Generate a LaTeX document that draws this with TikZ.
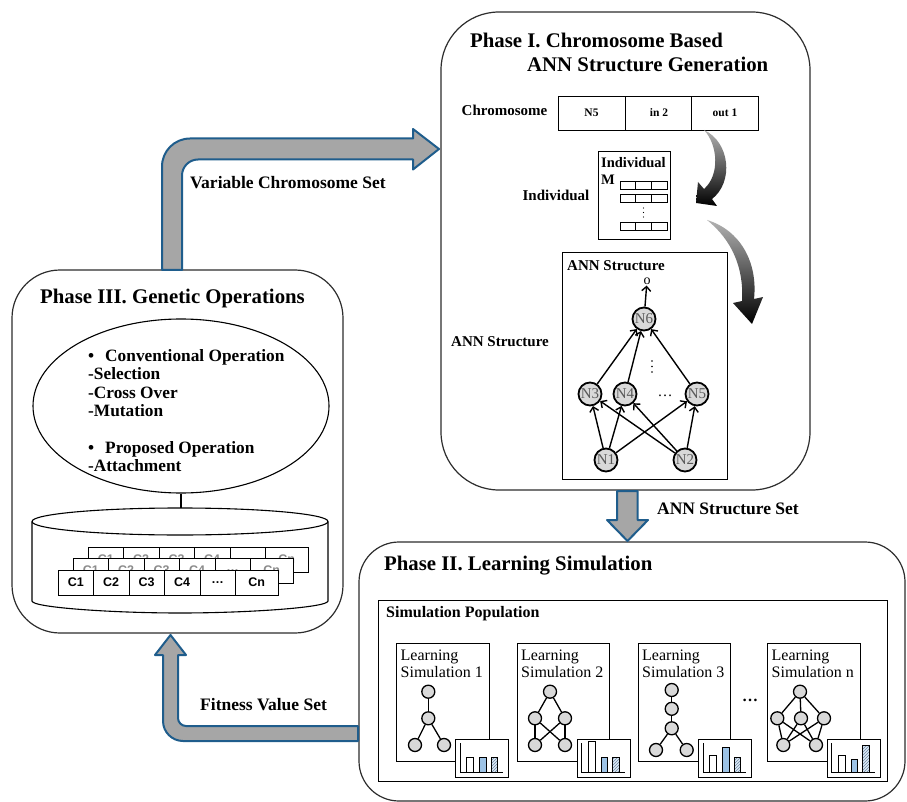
\documentclass[tikz,border=0pt]{standalone}
\usepackage{fontspec}
\setmainfont{Liberation Serif}
\setsansfont{Liberation Sans}
\usetikzlibrary{shapes.geometric,arrows.meta,patterns}

\definecolor{arrowblue}{RGB}{31,93,140}
\definecolor{arrowgray}{RGB}{166,166,166}
\definecolor{nodegray}{RGB}{217,217,217}
\definecolor{barblue}{RGB}{157,195,230}
\definecolor{boxline}{RGB}{45,45,45}

\newcommand{\fsz}[2]{\fontsize{#1}{#2}\selectfont}

% one bar chart: name, top-left x, top-left y, three bar heights
\newcommand{\barchart}[6]{%
  \node[chartbox, anchor=north west] (#1) at (#2,#3) {};
  \begin{scope}[shift={(#2,#3)}]
    \draw[line width=0.9pt] (5,4) -- (5,33.3) -- (48,33.3);
    \draw[line width=0.8pt, fill=white] (11.7,33.3) rectangle ++(6.7,-#4);
    \draw[line width=0.8pt, fill=barblue] (24.3,33.3) rectangle ++(6.7,-#5);
    \fill[barblue!35] (36,33.3) rectangle ++(6.7,-#6);
    \draw[line width=0.8pt, pattern=north east lines, pattern color=barblue!70!black] (36,33.3) rectangle ++(6.7,-#6);
  \end{scope}}

\begin{document}
\begin{tikzpicture}[x=1pt,y=-1pt,
  phase/.style={draw=boxline, line width=1.2pt, fill=white, inner sep=0},
  blockarrow/.style={draw=arrowblue, line width=2pt, fill=arrowgray, line join=round},
  titletext/.style={font=\fsz{20.8}{24}\bfseries, inner sep=0, anchor=west},
  lbl/.style={font=\fsz{15}{17}\bfseries, inner sep=0},
  flowlbl/.style={font=\fsz{17.5}{20}\bfseries, inner sep=0, anchor=west},
  neuron/.style={circle, draw, line width=1.8pt, fill=nodegray, minimum size=23pt, inner sep=0, font=\fsz{15}{15}, text=black!65},
  mini/.style={circle, draw, line width=1.3pt, fill=nodegray, minimum size=13pt, inner sep=0},
  cell/.style={draw, line width=0.9pt, fill=white, minimum height=25pt, inner sep=0, font=\sffamily\bfseries\fsz{12.5}{12.5}},
  genecell/.style={draw, line width=0.9pt, fill=white, minimum width=67pt, minimum height=34pt, inner sep=0, font=\fsz{11.5}{13}\bfseries},
  tinycell/.style={draw, line width=0.8pt, fill=white, minimum width=15.7pt, minimum height=8pt, inner sep=0},
  simbox/.style={draw, line width=0.9pt, fill=white, minimum width=92.3pt, minimum height=117.7pt, inner sep=0},
  chartbox/.style={draw, line width=0.9pt, fill=white, minimum width=53pt, minimum height=38pt, inner sep=0},
  annedge/.style={line width=1.4pt, -{Straight Barb[length=4.5pt,width=9pt]}},
  simedge/.style={line width=1.3pt},
  simtext/.style={font=\fsz{16}{17.5}, align=left, inner sep=0, anchor=north west}]

\useasboundingbox (0,0) rectangle (907,802);

% ---------------- Phase III ----------------
\node[phase, rounded corners=48pt, minimum width=331pt, minimum height=363pt] (p3) at (177.5,451.5) {};
\node[titletext] (p3title) at (40,298) {Phase III. Genetic Operations};

\node[draw, ellipse, line width=1.1pt, minimum width=296pt, minimum height=174pt, inner sep=0] (ops) at (181,406) {};
\node[font=\fsz{17.3}{18.4}\bfseries, align=left, inner sep=0, anchor=north west] (opstext) at (88,349)
  {\textbullet\hspace{11pt}Conventional Operation\\-Selection\\-Cross Over\\-Mutation\\[18.4pt]\textbullet\hspace{11pt}Proposed Operation\\-Attachment};

% chromosome pool cylinder
\coordinate (cyltop) at (181,508);
\draw[line width=1.1pt, fill=white] (32,521.5) -- (32,601)
  .. controls (32,607.6) and (113.7,613) .. (180,613)
  .. controls (246.3,613) and (328,607.6) .. (328,601) -- (328,521.5);
\draw[line width=1.1pt, fill=white] (180,521.5) ellipse [x radius=148, y radius=13.5];
\draw[line width=1.1pt] (ops.south) -- (cyltop);

% stacked chromosome rows
\foreach \c/\w/\t [count=\i] in {17.5/35/C1, 52.85/35.7/C2, 88.35/35.3/C3, 123.85/35.7/C4, 159.2/35/{\ldots}, 198.35/43.3/Cn}
  \node[cell, minimum width=\w pt, text=black!45] (rb\i) at (88.3+\c,559.5) {\t};
\foreach \c/\w/\t [count=\i] in {17.5/35/C1, 52.85/35.7/C2, 88.35/35.3/C3, 123.85/35.7/C4, 159.2/35/{\ldots}, 198.35/43.3/Cn}
  \node[cell, minimum width=\w pt, text=black!45] (rm\i) at (73.3+\c,570.5) {\t};
\foreach \c/\w/\t [count=\i] in {17.5/35/C1, 52.85/35.7/C2, 88.35/35.3/C3, 123.85/35.7/C4, 159.2/35/{\ldots}, 198.35/43.3/Cn}
  \node[cell, minimum width=\w pt] (rf\i) at (58.3+\c,582.5) {\t};

% ---------------- Phase I ----------------
\node[phase, rounded corners=58pt, minimum width=369pt, minimum height=478pt] (p1) at (625.5,251) {};
\node[titletext] (p1title) at (470,40) {Phase I. Chromosome Based};
\node[titletext] (p1title2) at (527,64) {ANN Structure Generation};

\node[lbl] (chromlbl) at (504.5,110) {Chromosome};
\node[genecell] (g1) at (591.5,113) {N5};
\node[genecell] (g2) at (659,113) {in 2};
\node[genecell] (g3) at (725,113) {out 1};

\node[lbl] (indlbl) at (556,195) {Individual};
\node[draw, line width=1pt, fill=white, minimum width=72pt, minimum height=88.7pt, inner sep=0] (indbox) at (634.7,195.6) {};
\node[font=\fsz{14.5}{15}\bfseries, inner sep=0, anchor=north west] (indname) at (601,157) {Individual};
\node[font=\fsz{14.5}{15}\bfseries, inner sep=0, anchor=north west] (indm) at (601,175) {M};
\foreach \y [count=\r] in {185.8, 198.3, 226.5}
  \foreach \i in {1,2,3}
    \node[tinycell] (t\r\i) at (612.2+15.7*\i,\y) {};
\foreach \y in {208,212.5,217}
  \fill (643.5,\y) circle (0.7);

% flow arrows inside Phase I
\shade[top color=black!30, bottom color=black] (704,130)
  .. controls (730,142) and (734,182) .. (712,199) -- (717,206) -- (696,203) -- (698,182) -- (704,189)
  .. controls (720,175) and (718,145) .. (704,130) -- cycle;
\shade[top color=black!30, bottom color=black] (707,220)
  .. controls (740,230) and (758,262) .. (754,299) -- (763,297) -- (752,324) -- (733,303) -- (742,301)
  .. controls (744,268) and (732,240) .. (707,220) -- cycle;

\node[lbl] (annlbl) at (500,342) {ANN Structure};
\node[draw, line width=1pt, fill=white, minimum width=165pt, minimum height=226pt, inner sep=0] (annbox) at (644.5,366) {};
\node[lbl, anchor=west] (anntitle) at (567,266) {ANN Structure};

\node[neuron] (n6) at (644,319) {N6};
\node[neuron] (n3) at (590,394) {N3};
\node[neuron] (n4) at (625,394) {N4};
\node[neuron] (n5) at (697,394) {N5};
\node[neuron] (n1) at (606,460) {N1};
\node[neuron] (n2) at (685,460) {N2};
\node[font=\fsz{14}{14}, inner sep=1pt] (out) at (647,281) {o};
\node[font=\fsz{15}{15}, inner sep=0] (hdots) at (665,396) {\ldots};
\foreach \y in {361,366.5,372}
  \fill (652,\y) circle (0.8);

\foreach \a/\b in {n1/n3, n1/n4, n1/n5, n2/n3, n2/n4, n2/n5, n3/n6, n4/n6, n5/n6, n6/out}
  \draw[annedge] (\a) -- (\b);

% ---------------- Phase II ----------------
\node[phase, rounded corners=40pt, minimum width=546pt, minimum height=259pt] (p2) at (632,671.5) {};
\node[titletext] (p2title) at (384,566) {Phase II. Learning Simulation};
\node[draw, line width=1pt, fill=white, minimum width=509pt, minimum height=181pt, inner sep=0] (pop) at (632.5,690.5) {};
\node[lbl, anchor=west, font=\fsz{16}{18}\bfseries] (poptitle) at (386,614) {Simulation Population};

\node[simbox] (s1) at (442.85,702.2) {};
\node[simbox] (s2) at (563.35,702.2) {};
\node[simbox] (s3) at (684.5,702.2) {};
\node[simbox] (sn) at (813.85,702.2) {};
\node[simtext] (s1t) at (400.5,649.5) {Learning\\Simulation 1};
\node[simtext] (s2t) at (521,649.5) {Learning\\Simulation 2};
\node[simtext] (s3t) at (642,649.5) {Learning\\Simulation 3};
\node[simtext] (snt) at (771.5,649.5) {Learning\\Simulation n};
\node[font=\fsz{16}{16}\bfseries, inner sep=0] (sdots) at (750,700) {\ldots};

% network of simulation 1
\node[mini] (a1) at (428.3,691.7) {};
\node[mini] (a2) at (428.3,718.3) {};
\node[mini] (a3) at (415,745) {};
\node[mini] (a4) at (444,745) {};
\foreach \u/\v in {a1/a2, a2/a3, a2/a4} \draw[simedge] (\u) -- (\v);

% network of simulation 2
\node[mini] (b1) at (550,691.7) {};
\node[mini] (b2) at (535,718.3) {};
\node[mini] (b3) at (565,718.3) {};
\node[mini] (b4) at (535,745) {};
\node[mini] (b5) at (565,745) {};
\foreach \u/\v in {b1/b2, b1/b3, b2/b4, b3/b5, b2/b5, b3/b4} \draw[simedge] (\u) -- (\v);

% network of simulation 3
\node[mini] (c1) at (671.7,690) {};
\node[mini] (c2) at (671.7,708.8) {};
\node[mini] (c3) at (671.7,728.3) {};
\node[mini] (c4) at (656,750) {};
\node[mini] (c5) at (686.7,750) {};
\foreach \u/\v in {c1/c2, c2/c3, c3/c4, c3/c5} \draw[simedge] (\u) -- (\v);

% network of simulation n
\node[mini] (d1) at (800,691.7) {};
\node[mini] (d2) at (777.3,718.3) {};
\node[mini] (d3) at (801,718.3) {};
\node[mini] (d4) at (824,718.3) {};
\node[mini] (d5) at (783.3,745) {};
\node[mini] (d6) at (816,745) {};
\foreach \u/\v in {d1/d2, d1/d3, d1/d4, d2/d5, d2/d6, d3/d5, d3/d6, d4/d5, d4/d6} \draw[simedge] (\u) -- (\v);

\barchart{ch1}{455}{739}{15.3}{15.3}{15.3}
\barchart{ch2}{576.7}{739}{31}{15.3}{15.3}
\barchart{ch3}{698}{739}{16.7}{25}{15.3}
\barchart{chn}{826.7}{739}{16.7}{12.7}{26.7}

% ---------------- flows between phases ----------------
\draw[blockarrow] (162,270) -- (162,166.5)
  .. controls (162,151) and (174.5,138.5) .. (190,138.5) -- (413,138.5) -- (413,129) -- (439,149)
  -- (413,169.5) -- (413,159.5) -- (198,159.5)
  .. controls (189.2,159.5) and (182,166.7) .. (182,175.5) -- (182,270) -- cycle;
\node[flowlbl] (vcs) at (190,183) {Variable Chromosome Set};

\draw[blockarrow] (617,491) -- (617,520) -- (607,520) -- (627.5,541) -- (648,520) -- (637.5,520) -- (637.5,491) -- cycle;
\node[flowlbl] (anns) at (657,509) {ANN Structure Set};

\draw[blockarrow] (358,741) -- (183,741)
  .. controls (172,741) and (163,732) .. (163,721) -- (163,655) -- (155,655) -- (170.5,635)
  -- (186,655) -- (178,655) -- (178,718)
  .. controls (178,722.4) and (181.6,726) .. (186,726) -- (358,726) -- cycle;
\node[flowlbl] (fvs) at (200,705) {Fitness Value Set};

\end{tikzpicture}
\end{document}
